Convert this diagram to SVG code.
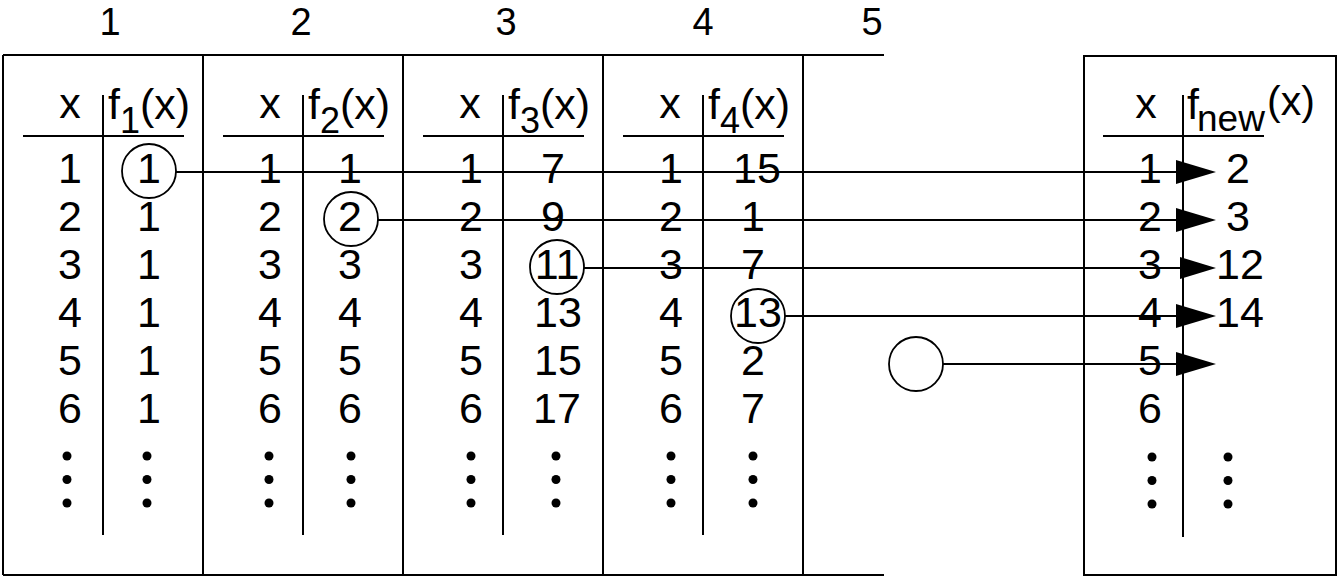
<svg xmlns="http://www.w3.org/2000/svg" width="1340" height="579" viewBox="0 0 1340 579">
<style>
text{font-family:"Liberation Sans",Arial,Helvetica,sans-serif;font-size:43px;fill:#000;text-anchor:middle}
.top{font-size:38px}
.sub{font-size:36px}
.l{stroke:#000;stroke-width:2;fill:none}
.c{stroke:#000;stroke-width:1.8;fill:none}
.d{fill:#000}
.lft{text-anchor:start}
</style>
<defs>
<g id="dots"><circle cx="0" cy="0" r="4.5"/><circle cx="0" cy="23.5" r="4.5"/><circle cx="0" cy="47" r="4.5"/></g>
</defs>
<rect width="1340" height="579" fill="#fff"/>
<g id="col-labels">
<text class="top" x="110" y="35">1</text>
<text class="top" x="301" y="35">2</text>
<text class="top" x="506" y="35">3</text>
<text class="top" x="703" y="35">4</text>
<text class="top" x="872" y="35">5</text>
</g>
<g id="frame" class="l">
<line x1="3" y1="55" x2="884" y2="55"/>
<line x1="3" y1="575" x2="884" y2="575"/>
<line x1="3" y1="55" x2="3" y2="575"/>
<line x1="203" y1="55" x2="203" y2="575"/>
<line x1="403" y1="55" x2="403" y2="575"/>
<line x1="603" y1="55" x2="603" y2="575"/>
<line x1="803" y1="55" x2="803" y2="575"/>
</g>
<g id="table1">
<line class="l" x1="23" y1="136" x2="184" y2="136"/>
<line class="l" x1="103" y1="95" x2="103" y2="535"/>
<text x="70" y="118">x</text>
<text class="lft" x="108" y="119">f<tspan class="sub" dy="14">1</tspan><tspan dy="-14">(x)</tspan></text>
<text x="70" y="183">1</text><text x="70" y="231">2</text><text x="70" y="279">3</text><text x="70" y="327">4</text><text x="70" y="375">5</text><text x="70" y="423">6</text>
<text x="149" y="183">1</text><text x="149" y="231">1</text><text x="149" y="279">1</text><text x="149" y="327">1</text><text x="149" y="375">1</text><text x="149" y="423">1</text>
<circle class="c" cx="149" cy="171" r="27"/>
<use href="#dots" x="67" y="456" class="d"/><use href="#dots" x="147" y="456" class="d"/>
</g>
<g id="table2">
<line class="l" x1="223" y1="136" x2="384" y2="136"/>
<line class="l" x1="303" y1="95" x2="303" y2="535"/>
<text x="270" y="118">x</text>
<text class="lft" x="308" y="119">f<tspan class="sub" dy="14">2</tspan><tspan dy="-14">(x)</tspan></text>
<text x="270" y="183">1</text><text x="270" y="231">2</text><text x="270" y="279">3</text><text x="270" y="327">4</text><text x="270" y="375">5</text><text x="270" y="423">6</text>
<text x="350" y="183">1</text><text x="350" y="231">2</text><text x="350" y="279">3</text><text x="350" y="327">4</text><text x="350" y="375">5</text><text x="350" y="423">6</text>
<circle class="c" cx="351" cy="219" r="27"/>
<use href="#dots" x="269" y="456" class="d"/><use href="#dots" x="351" y="456" class="d"/>
</g>
<g id="table3">
<line class="l" x1="423" y1="136" x2="584" y2="136"/>
<line class="l" x1="503" y1="95" x2="503" y2="535"/>
<text x="470" y="118">x</text>
<text class="lft" x="508" y="119">f<tspan class="sub" dy="14">3</tspan><tspan dy="-14">(x)</tspan></text>
<text x="471" y="183">1</text><text x="471" y="231">2</text><text x="471" y="279">3</text><text x="471" y="327">4</text><text x="471" y="375">5</text><text x="471" y="423">6</text>
<text x="553" y="183">7</text><text x="553" y="231">9</text><text x="557" y="279">11</text><text x="558" y="327">13</text><text x="558" y="375">15</text><text x="557" y="423">17</text>
<circle class="c" cx="557" cy="267" r="27"/>
<use href="#dots" x="471" y="456" class="d"/><use href="#dots" x="556" y="456" class="d"/>
</g>
<g id="table4">
<line class="l" x1="623" y1="136" x2="784" y2="136"/>
<line class="l" x1="703" y1="95" x2="703" y2="535"/>
<text x="670" y="118">x</text>
<text class="lft" x="708" y="119">f<tspan class="sub" dy="14">4</tspan><tspan dy="-14">(x)</tspan></text>
<text x="671" y="183">1</text><text x="671" y="231">2</text><text x="671" y="279">3</text><text x="671" y="327">4</text><text x="671" y="375">5</text><text x="671" y="423">6</text>
<text x="757" y="183">15</text><text x="753" y="231">1</text><text x="753" y="279">7</text><text x="758" y="327">13</text><text x="753" y="375">2</text><text x="753" y="423">7</text>
<circle class="c" cx="758" cy="316" r="27"/>
<use href="#dots" x="671" y="456" class="d"/><use href="#dots" x="753" y="456" class="d"/>
</g>
<g id="empty-slot">
<circle class="c" cx="916" cy="364" r="27"/>
</g>
<g id="table-new">
<rect class="l" x="1084" y="56" width="252" height="519"/>
<line class="l" x1="1103" y1="136" x2="1264" y2="136"/>
<line class="l" x1="1183" y1="95" x2="1183" y2="537"/>
<text x="1146" y="118">x</text>
<text class="lft" x="1187" y="119">f<tspan x="1197" dy="12" font-size="37">new</tspan><tspan x="1267" dy="-16" font-size="41">(x)</tspan></text>
<text x="1150" y="183">1</text><text x="1150" y="231">2</text><text x="1150" y="279">3</text><text x="1150" y="327">4</text><text x="1150" y="375">5</text><text x="1150" y="423">6</text>
<text x="1238" y="183">2</text><text x="1238" y="231">3</text><text x="1240" y="279">12</text><text x="1240" y="327">14</text>
<use href="#dots" x="1152" y="457" class="d"/><use href="#dots" x="1228" y="457" class="d"/>
</g>
<g id="connectors">
<line class="l" x1="176" y1="172" x2="1180" y2="172"/>
<line class="l" x1="378" y1="220" x2="1180" y2="220"/>
<line class="l" x1="584" y1="268" x2="1182" y2="268"/>
<line class="l" x1="785" y1="316" x2="1180" y2="316"/>
<line class="l" x1="943" y1="364" x2="1180" y2="364"/>
<polygon class="d" points="1176,160 1216,172 1176,184"/>
<polygon class="d" points="1176,208 1216,220 1176,232"/>
<polygon class="d" points="1180,257 1216,268 1180,279"/>
<polygon class="d" points="1176,304 1216,316 1176,328"/>
<polygon class="d" points="1176,352 1216,364 1176,376"/>
</g>
</svg>
